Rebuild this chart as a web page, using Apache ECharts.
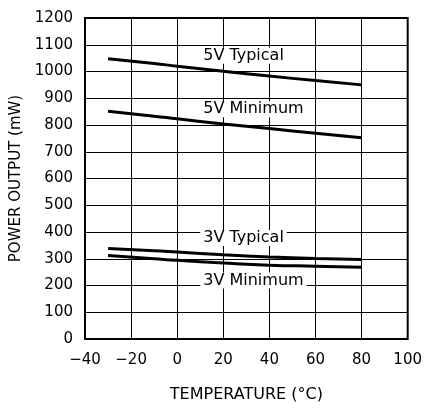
<!DOCTYPE html>
<html><head><meta charset="utf-8">
<script src="https://cdn.jsdelivr.net/npm/echarts@6/dist/echarts.min.js"></script>
<style>html,body{margin:0;padding:0;background:#fff}#c{width:425px;height:408px}</style>
</head><body><div id="c"></div>
<script>
// Temperature (°C)
const temps = [-30, -10, 0, 20, 40, 60, 80];
const v5Typical = [1048, 1030, 1020, 1001, 983, 966, 950];
const v5Minimum = [851, 833, 823, 804, 787, 769, 752];
const v3Typical = [338, 330, 325, 315, 307, 301, 297];
const v3Minimum = [312, 300, 294, 284, 276, 272, 268];
const curveLabels = ['5V Typical', '5V Minimum', '3V Typical', '3V Minimum'];
const labelAnchors = [[10, 1059], [10, 859], [10, 378], [10, 219]];
const xTicks = [-40, -20, 0, 20, 40, 60, 80, 100];
const yTicks = [0, 100, 200, 300, 400, 500, 600, 700, 800, 900, 1000, 1100, 1200];

const FONT = 'DejaVu Sans';
const pair = arr => temps.map((t, i) => [t, arr[i]]);
const lineSeries = arr => ({
  type: 'line', data: pair(arr), smooth: true, symbol: 'none',
  lineStyle: {color: '#000', width: 3}, z: 3
});
const chart = echarts.init(document.getElementById('c'), null, {renderer: 'canvas'});
chart.setOption({
  animation: false,
  grid: {left: 85, right: 17, top: 18, bottom: 66, show: true, borderColor: '#000', borderWidth: 2, z: 5},
  xAxis: {
    type: 'value', min: -40, max: 100, interval: 20,
    name: 'TEMPERATURE (°C)', nameLocation: 'middle', nameGap: 48,
    nameTextStyle: {fontFamily: FONT, fontSize: 16, color: '#000'},
    axisLine: {show: false}, axisTick: {show: false},
    axisLabel: {fontFamily: FONT, fontSize: 15, color: '#000', margin: 14,
      formatter: v => (v < 0 ? '\u2212' + Math.abs(v) : String(v))},
    splitLine: {show: true, lineStyle: {color: '#000', width: 1}}
  },
  yAxis: {
    type: 'value', min: 0, max: 1200, interval: 100,
    name: 'POWER OUTPUT (mW)', nameLocation: 'middle', nameGap: 58,
    nameTextStyle: {fontFamily: FONT, fontSize: 15, color: '#000'},
    axisLine: {show: false}, axisTick: {show: false},
    axisLabel: {fontFamily: FONT, fontSize: 15, color: '#000', margin: 12,
      formatter: v => String(v)},
    splitLine: {show: true, lineStyle: {color: '#000', width: 1}}
  },
  series: [
    lineSeries(v5Typical), lineSeries(v5Minimum), lineSeries(v3Typical), lineSeries(v3Minimum),
    {
      type: 'scatter', symbolSize: 0, z: 4, itemStyle: {color: '#000', opacity: 1},
      data: labelAnchors.map((p, i) => ({value: p, name: curveLabels[i]})),
      label: {show: true, position: 'right', distance: 0, formatter: p => p.name,
        fontFamily: FONT, fontSize: 16, color: '#000', opacity: 1, backgroundColor: '#fff',
        padding: [0, 3, 0, 3]}
    }
  ]
});
</script></body></html>
